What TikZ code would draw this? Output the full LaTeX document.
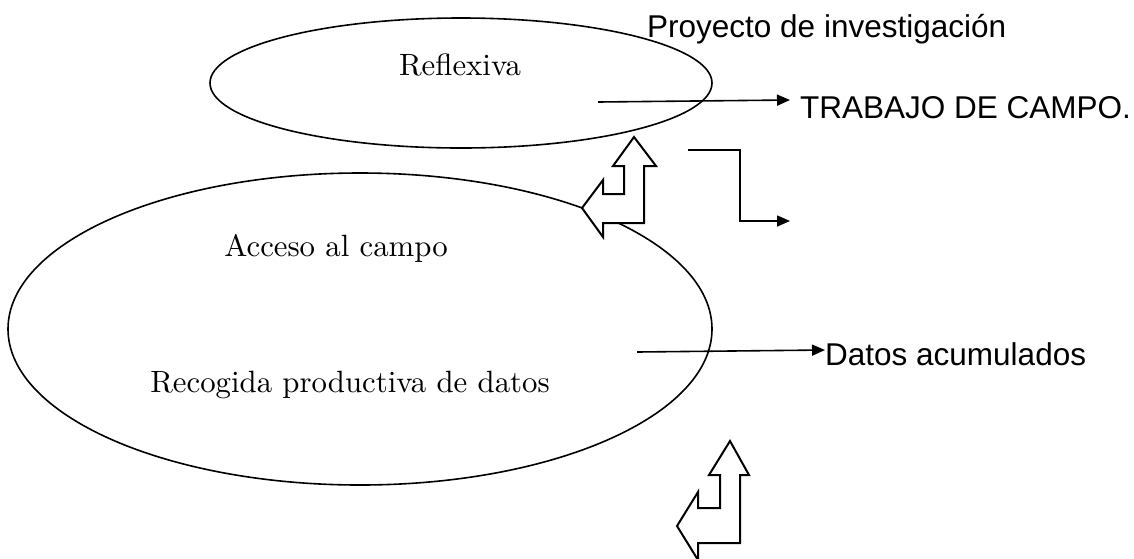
\documentclass[tikz,border=0pt]{standalone}
\usepackage{fontspec}
\newfontfamily\sansf{Liberation Sans}
\newfontfamily\serf{lmroman10-regular.otf}
\usetikzlibrary{arrows.meta,shapes.geometric}
\tikzset{
  oval/.style={draw, ellipse, line width=1.6pt, inner sep=0pt},
  serif/.style={inner sep=0pt, anchor=base, font=\serf\fontsize{30.8}{36}\selectfont},
  sanslabel/.style={inner sep=0pt, anchor=base west, font=\sansf\fontsize{31.5}{38}\selectfont},
  conn/.style={line width=1.6pt, -{Triangle[length=13pt,width=11pt]}},
  blockarrow/.style={draw, fill=white, line width=2pt, line join=miter}
}
\begin{document}
\begin{tikzpicture}[x=1pt,y=-1pt]
\fill[white] (0,0) rectangle (1134,558);
\useasboundingbox (0,0) rectangle (1134,558);
% ellipses
\node[oval, minimum width=502pt, minimum height=130pt] (refl) at (461,83) {};
\node[oval, minimum width=704pt, minimum height=312pt] (campo) at (360,329) {};
% texts inside ellipses
\node[serif] (trefl) at (460,75) {Reflexiva};
\node[serif] (tacc) at (336,256) {Acceso al campo};
\node[serif] (trec) at (350,392) {Recogida productiva de datos};
% right labels
\node[sanslabel] (proy) at (647,37) {Proyecto de investigación};
\node[sanslabel] (trab) at (800,118) {TRABAJO DE CAMPO.};
\node[sanslabel] (datos) at (825,365) {Datos acumulados};
% connector coordinates
\coordinate (a1) at (598,102);
\coordinate (a2) at (790,100);
\coordinate (b1) at (637,352);
\coordinate (b2) at (825,350);
\coordinate (e1) at (688,150);
\coordinate (e2) at (740,221);
\coordinate (e3) at (790,221);
\draw[conn] (a1) -- (a2);
\draw[conn] (b1) -- (b2);
\draw[conn] (e1) -| (e2) -- (e3);
% block arrows
\draw[blockarrow] (634,137) -- (656,166) -- (644,166) -- (644,223) -- (603,223) -- (603,237)
  -- (582,208) -- (603,180) -- (603,194) -- (624,194) -- (624,166) -- (613,166) -- cycle;
\draw[blockarrow] (730,441) -- (749,475) -- (740,475) -- (740,543) -- (698,543) -- (698,560)
  -- (677,526) -- (698,492) -- (698,508) -- (720,508) -- (720,475) -- (709,475) -- cycle;
\end{tikzpicture}
\end{document}
